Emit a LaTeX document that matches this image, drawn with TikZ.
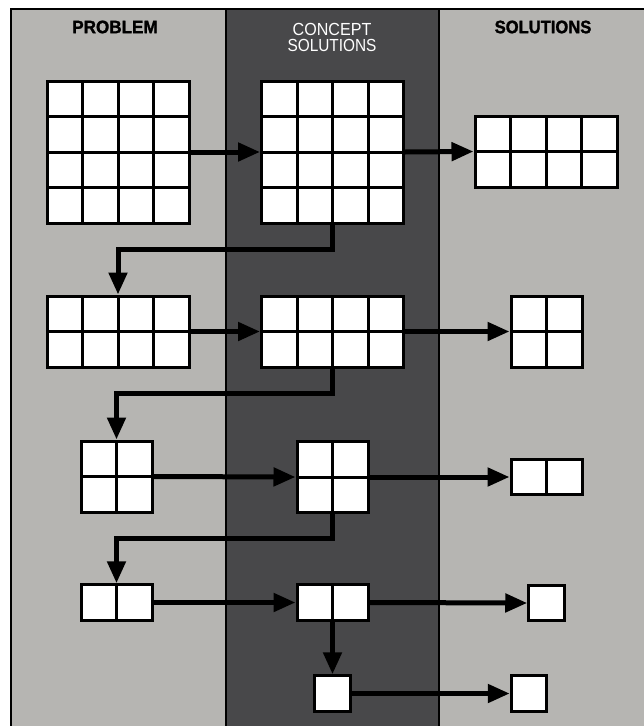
\documentclass[tikz,border=0pt]{standalone}
\usepackage{fontspec}
\setmainfont{Liberation Sans}
\usetikzlibrary{arrows.meta,calc}
\definecolor{lightcol}{RGB}{182,181,178}
\definecolor{darkcol}{RGB}{72,72,74}
\tikzset{
  cells/.style 2 args={draw=black, fill=white, line width=3pt, inner sep=0pt,
    minimum width=#1*35.5pt, minimum height=#2*35.5pt,
    path picture={
      \foreach \i in {1,...,4}{\ifnum\i<#1
        \draw[line width=3pt] ($(path picture bounding box.south west)!\i/#1!(path picture bounding box.south east)$) -- ($(path picture bounding box.north west)!\i/#1!(path picture bounding box.north east)$);\fi}
      \foreach \j in {1,...,4}{\ifnum\j<#2
        \draw[line width=3pt] ($(path picture bounding box.south west)!\j/#2!(path picture bounding box.north west)$) -- ($(path picture bounding box.south east)!\j/#2!(path picture bounding box.north east)$);\fi}
    }},
  flow/.style={line width=5pt, -{Triangle[length=22pt,width=18pt]}},
  darkhead/.style={font=\fontsize{18}{18}\selectfont\bfseries\addfontfeature{FakeBold=1.5}, text=black},
  lighthead/.style={font=\fontsize{17.5}{17}\selectfont, text=white, align=center}
}
\begin{document}
\begin{tikzpicture}[x=1pt,y=-1pt]
\useasboundingbox (0,0) rectangle (644,726);
\clip (0,0) rectangle (644,726);
\fill[white] (0,0) rectangle (644,726);
\fill[lightcol] (11,9) rectangle (660,740);
\fill[darkcol] (226,9) rectangle (439,740);
\draw[line width=2pt] (11,740) -- (11,9) -- (660,9);
\draw[line width=2pt] (226,9) -- (226,740);
\draw[line width=2pt] (439,9) -- (439,740);
% headers
\node[darkhead] (hp) at (115,27) {\scalebox{0.95}[1]{PROBLEM}};
\node[darkhead] (hs) at (543,27) {\scalebox{0.92}[1]{SOLUTIONS}};
\node[lighthead] (hc) at (332,37) {\scalebox{0.92}[1]{CONCEPT}\\[-1pt]\scalebox{0.88}[1]{SOLUTIONS}};
% boxes
\node[cells={4}{4}] (P1) at (118,152) {};
\node[cells={4}{4}] (C1) at (332.5,152) {};
\node[cells={4}{2}] (S1) at (546,151.5) {};
\node[cells={4}{2}] (P2) at (118,331.5) {};
\node[cells={4}{2}] (C2) at (332.5,331.5) {};
\node[cells={2}{2}] (S2) at (546.5,331.5) {};
\node[cells={2}{2}] (P3) at (116.5,476.5) {};
\node[cells={2}{2}] (C3) at (332.5,477) {};
\node[cells={2}{1}] (S3) at (546.5,477) {};
\node[cells={2}{1}] (P4) at (116.5,602.5) {};
\node[cells={2}{1}] (C4) at (332.5,602.5) {};
\node[cells={1}{1}] (S4) at (546.5,603) {};
\node[cells={1}{1}] (C5) at (332.5,693.5) {};
\node[cells={1}{1}] (S5) at (529,693.5) {};
% connectors
\draw[flow] (P1.east) -- (C1.west);
\draw[flow] (C1.east) -- (S1.west);
\draw[flow] (C1.south) -- ++(0,25) -| (P2.north);
\draw[flow] (P2.east) -- (C2.west);
\draw[flow] (C2.east) -- (S2.west);
\draw[flow] (C2.south) -- ++(0,25) -| (P3.north);
\draw[flow] (P3.east) -- (C3.west);
\draw[flow] (C3.east) -- (S3.west);
\draw[flow] (C3.south) -- ++(0,24) -| (P4.north);
\draw[flow] (P4.east) -- (C4.west);
\draw[flow] (C4.east) -- (S4.west);
\draw[flow] (C4.south) -- (C5.north);
\draw[flow] (C5.east) -- (S5.west);
\end{tikzpicture}
\end{document}
